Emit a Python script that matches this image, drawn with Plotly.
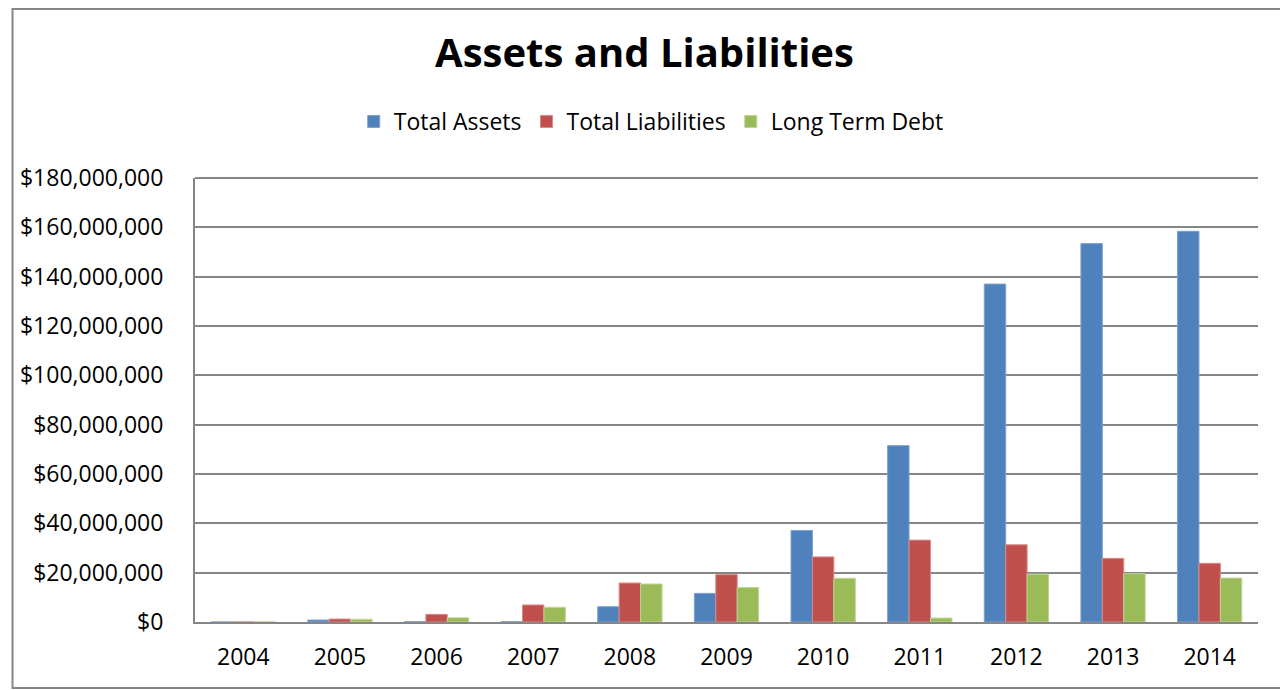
import plotly.graph_objects as go

years = ["2004", "2005", "2006", "2007", "2008", "2009", "2010", "2011", "2012", "2013", "2014"]
total_assets = [0, 0.8e6, 0.1e6, 0.1e6, 6.2e6, 11.6e6, 37.1e6, 71.5e6, 137.0e6, 153.4e6, 158.4e6]
total_liabilities = [0, 1.2e6, 3.1e6, 6.9e6, 15.8e6, 19.2e6, 26.4e6, 33.2e6, 31.3e6, 25.8e6, 23.8e6]
long_term_debt = [0, 1.1e6, 1.7e6, 5.95e6, 15.4e6, 14.0e6, 17.7e6, 1.6e6, 19.4e6, 19.6e6, 17.8e6]

FONT = "Open Sans"
# page body has an 8px default margin, so the figure is 8px smaller than the window
W, H = 1280, 682
L, R, T, B = 184, 30, 170, 68
pw, ph = W - L - R, H - T - B

fig = go.Figure()
for name, vals, col, edge in [
    ("Total Assets", total_assets, "#4F81BD", "#7EA1CE"),
    ("Total Liabilities", total_liabilities, "#C0504D", "#D98A88"),
    ("Long Term Debt", long_term_debt, "#9BBB59", "#BDD494"),
]:
    fig.add_trace(go.Bar(x=years, y=vals, name=name, marker=dict(color=col, line=dict(color=edge, width=1))))

fig.update_layout(
    width=W, height=H,
    margin=dict(l=L, r=R, t=T, b=B),
    paper_bgcolor="white", plot_bgcolor="white",
    barmode="group", bargap=0.335, bargroupgap=0,
    font=dict(family=FONT, color="black", size=23),
    title=dict(text="<b>Assets and Liabilities</b>", x=636.5 / W, xanchor="center", y=1 - 45 / H, yanchor="middle",
               font=dict(family=FONT, size=40, color="black")),
    legend=dict(orientation="h", x=(641.5 - L) / pw, xanchor="center", y=1 + (T - 113.5) / ph, yanchor="middle",
                font=dict(family=FONT, size=23, color="black"), itemwidth=30, traceorder="normal"),
    xaxis=dict(showline=True, linecolor="#868686", linewidth=2, ticks="", tickfont=dict(size=23),
               showgrid=False, mirror=False, ticklabelstandoff=13),
    yaxis=dict(range=[0, 180e6], dtick=20e6, tickformat="$,.0f", showgrid=True, gridcolor="#868686",
               gridwidth=2, showline=True, linecolor="#868686", linewidth=2, ticks="",
               tickfont=dict(size=23), zeroline=False, ticklabelstandoff=25),
    shapes=[dict(type="rect", xref="paper", yref="paper",
                 x0=(1 - L) / pw, x1=(W - 2 - L) / pw,
                 y0=(H - B - (H - 2)) / ph, y1=(H - B - 1) / ph,
                 line=dict(color="#868686", width=2), fillcolor="rgba(0,0,0,0)", layer="below"),
            dict(type="line", xref="paper", yref="paper", x0=0, x1=1, y0=1, y1=1,
                 line=dict(color="#868686", width=2))],
)
fig.write_html("out.html")
